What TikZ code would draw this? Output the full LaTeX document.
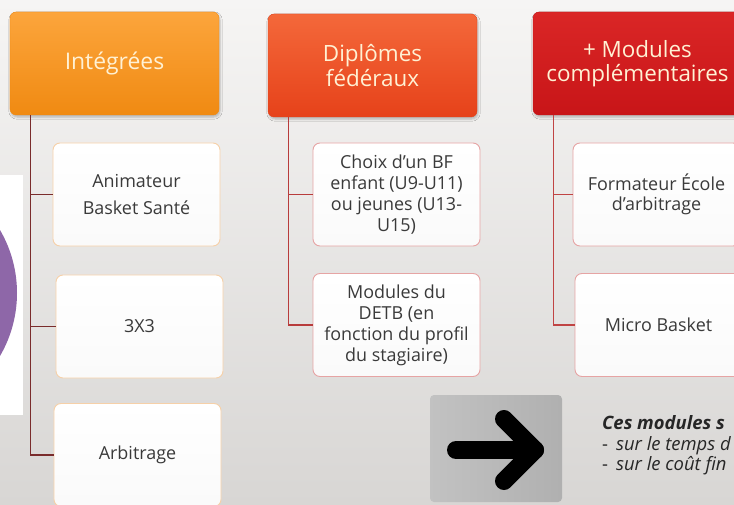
\documentclass[tikz,border=0pt]{standalone}
\usepackage{fontspec}
\setmainfont{Open Sans}
\usetikzlibrary{shadows, shadows.blur, positioning}
\definecolor{bgTop}{HTML}{F6F5F4}
\definecolor{bgBot}{HTML}{D8D6D4}
\definecolor{orangeTop}{HTML}{FCA53C}
\definecolor{orangeBot}{HTML}{F08A12}
\definecolor{redOrTop}{HTML}{F4683A}
\definecolor{redOrBot}{HTML}{E6421A}
\definecolor{redTop}{HTML}{DA2626}
\definecolor{redBot}{HTML}{C81518}
\definecolor{headText}{HTML}{FFF1D4}
\definecolor{darkText}{HTML}{3A3A3A}
\definecolor{edgeA}{HTML}{F6D0A8}
\definecolor{edgeB}{HTML}{E6A4A4}
\definecolor{lineA}{HTML}{7A2C2C}
\definecolor{lineB}{HTML}{B83C3C}
\definecolor{lineC}{HTML}{C04444}
\definecolor{purpleDisc}{HTML}{8E67A8}
\tikzset{
    headBox/.style args={#1 #2}{
        rectangle, rounded corners=6bp, minimum width=209bp, minimum height=103bp,
        inner sep=2bp, align=center, top color=#1, bottom color=#2, draw=#2,
        text=headText, blur shadow={shadow blur steps=5, shadow opacity=25,
        shadow xshift=1bp, shadow yshift=-2bp}
    },
    childBox/.style={
        rectangle, rounded corners=7bp, minimum width=167bp, minimum height=103bp,
        inner sep=2bp, align=center, draw=#1, line width=0.9bp,
        top color=white, bottom color=white!96!gray, text=darkText
    },
    childBox/.default=edgeA,
    bareL/.style={draw=#1, line width=1.2bp},
    bareL/.default=lineA
}

\begin{document}
\begin{tikzpicture}[x=1bp, y=-1bp]
    \def \hx {21bp}
    \useasboundingbox (0,0) rectangle (734,505);
    \clip (0,0) rectangle (734,505);
    \fill[top color=bgTop, bottom color=bgBot] (0,0) rectangle (734,505);
    % piece of picture on the left
    \begin{scope}
    \fill[white] (0,175) rectangle (23,415);
    \clip (0,175) rectangle (23,415);
    \fill[purpleDisc] (-108,293) circle (125);
    \end{scope}
    \tikzstyle{every node}=[font=\fontsize{18}{21}\selectfont];
    % headers
    \node[headBox={orangeTop orangeBot}, font=\fontsize{23}{26}\selectfont] (h1) at (114.5,63.5) {Intégrées};
    \node[headBox={redOrTop redOrBot}, font=\fontsize{22.5}{25}\selectfont] (h2) at (372.5,65.5) {Diplômes\\fédéraux};
    \node[headBox={redTop redBot}, font=\fontsize{22.5}{24}\selectfont] (h3) at (637.5,63.5) {+ Modules\\complémentaires};
    % children
    \node[childBox, font=\fontsize{18}{28}\selectfont] (a1) at (136.5,194.5) {Animateur\\Basket Santé};
    \node[childBox] (a2) at (139.5,326.5) {3X3};
    \node[childBox] (a3) at (137.5,455) {Arbitrage};
    \node[childBox=edgeB] (b1) at (396.5,194.5) {Choix d’un BF\\enfant (U9-U11)\\ou jeunes (U13-\\U15)};
    \node[childBox=edgeB] (b2) at (396.5,325) {Modules du\\DETB (en\\fonction du profil\\du stagiaire)};
    \node[childBox=edgeB, font=\fontsize{18}{20}\selectfont] (c1) at (656.5,194.5) {Formateur École\\d’arbitrage};
    \node[childBox=edgeB] (c2) at (658.5,325) {Micro Basket};
    % connectors
    \foreach \c in {a1,a2,a3}
        \draw[bareL=lineA] ([xshift=\hx]h1.south west) |- (\c.west);
    \foreach \c in {b1,b2}
        \draw[bareL=lineB] ([xshift=\hx]h2.south west) |- (\c.west);
    \foreach \c in {c1,c2}
        \draw[bareL=lineC] ([xshift=\hx]h3.south west) |- (\c.west);
    % arrow picture
    \shade[left color=gray!48, right color=gray!62, rounded corners=4bp] (430,395) rectangle (562,502);
    \draw[line width=18bp, line cap=round, line join=round] (456,450) -- (535,450);
    \draw[line width=18bp, line cap=round, line join=round] (504,419) -- (535,450) -- (504,481);
    % note
    \tikzstyle{every node}=[font=\fontsize{18.5}{20}\selectfont, text=black!85, inner sep=0pt, anchor=base west];
    \node (n1) at (602,429) {\textbf{\textit{Ces modules s}}};
    \node (n2) at (602,450) {-\hspace{8bp}\textit{sur le temps d}};
    \node (n3) at (602,470) {-\hspace{8bp}\textit{sur le coût fin}};
\end{tikzpicture}
\end{document}
